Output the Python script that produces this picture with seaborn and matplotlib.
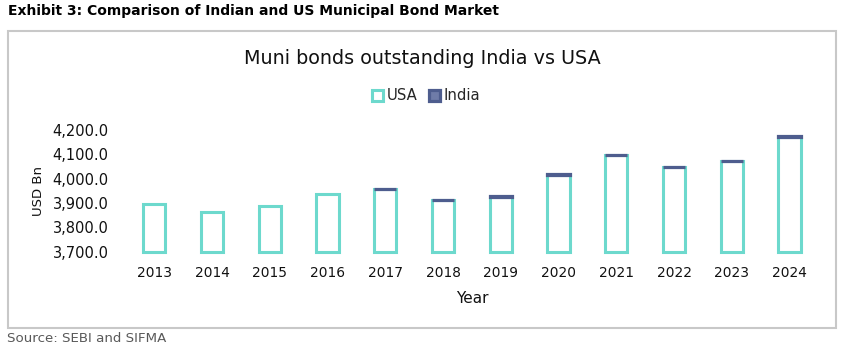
import matplotlib
matplotlib.use("Agg")
import matplotlib.pyplot as plt
import seaborn as sns
import numpy as np
import pandas as pd
from matplotlib.patches import Rectangle

# ---- data (USD Bn) ----
years = ["2013", "2014", "2015", "2016", "2017", "2018",
         "2019", "2020", "2021", "2022", "2023", "2024"]
usa_bn = [3895, 3862, 3886, 3936, 3957, 3912, 3926, 4017, 4097, 4047, 4071, 4173]
india_years = ["2017", "2018", "2019", "2020", "2021", "2022", "2023", "2024"]
india_bn = [1.0, 1.1, 1.2, 1.3, 1.4, 1.5, 1.6, 1.8]
y_ticks = [3700, 3800, 3900, 4000, 4100, 4200]

TEAL = "#6DD9CD"
NAVY = "#4E5D8E"
NAVY_FILL = "#6F7CA8"
W, H = 843, 351

sns.set_style("white")
plt.rcParams["font.family"] = ["DejaVu Sans"]

fig = plt.figure(figsize=(W / 100, H / 100), dpi=100)
ax = fig.add_axes([125.3 / W, 1 - 251.7 / H, 693.2 / W, 121.7 / H])

y0 = y_ticks[0]
usa_df = pd.DataFrame({"Year": years, "USA": usa_bn})
usa_df["height"] = usa_df["USA"] - y0
sns.barplot(data=usa_df, x="Year", y="height", order=years, bottom=y0,
            width=0.385, saturation=1, errorbar=None, color=TEAL,
            facecolor="white", edgecolor=TEAL, linewidth=2.2, clip_on=False,
            label="USA", ax=ax)

usa_lookup = dict(zip(years, usa_bn))
india_df = pd.DataFrame({"Year": india_years, "India": india_bn})
india_base = india_df["Year"].map(usa_lookup).to_numpy()
sns.barplot(data=india_df, x="Year", y="India", order=years, bottom=india_base,
            width=0.385, saturation=1, errorbar=None, color=NAVY,
            facecolor=NAVY_FILL, edgecolor=NAVY, linewidth=2.3, clip_on=False,
            label="India", ax=ax)

ax.set_xlim(-0.5, len(years) - 0.5)
ax.set_ylim(y_ticks[0], y_ticks[-1])
ax.set_yticks(y_ticks)
ax.set_yticklabels([f"{v:,.1f}" for v in y_ticks])
ax.tick_params(axis="y", length=0, pad=12, labelsize=10.5, labelcolor="#111111")
ax.tick_params(axis="x", length=0, pad=10.5, labelsize=9.9, labelcolor="#111111")
sns.despine(ax=ax, left=True, bottom=True)
ax.grid(False)
ax.set_facecolor("none")

ax.set_xlabel("Year", fontsize=11, color="#111111")
ax.xaxis.set_label_coords(0.5, (251.7 - 291) / 121.7)
ax.set_ylabel("USD Bn", fontsize=9.5, color="#111111")
ax.yaxis.set_label_coords((45 - 125.3) / 693.2, 0.5)

handles, labels = ax.get_legend_handles_labels()
ax.legend(handles, labels, loc="center", bbox_to_anchor=(426 / W, 1 - 96 / H),
          bbox_transform=fig.transFigure, ncol=2, frameon=False, fontsize=10.7,
          handlelength=0.75, handleheight=0.75, handletextpad=0.25,
          columnspacing=0.8, borderpad=0)

fig.text(422 / W, 1 - 58 / H, "Muni bonds outstanding India vs USA",
         ha="center", va="center", fontsize=13.8, color="#111111")
fig.text(8 / W, 1 - 11 / H, "Exhibit 3: Comparison of Indian and US Municipal Bond Market",
         ha="left", va="center", fontsize=10, fontweight="bold", color="#000000")
fig.text(7 / W, 1 - 339 / H, "Source: SEBI and SIFMA",
         ha="left", va="center", fontsize=9.6, color="#595959")

fig.patches.append(Rectangle((7.5 / W, 1 - 328 / H), 828.5 / W, 297 / H,
                             transform=fig.transFigure, fill=False,
                             edgecolor="#C8C8C8", linewidth=1.5, zorder=0))

fig.savefig("out.png", dpi=100)
